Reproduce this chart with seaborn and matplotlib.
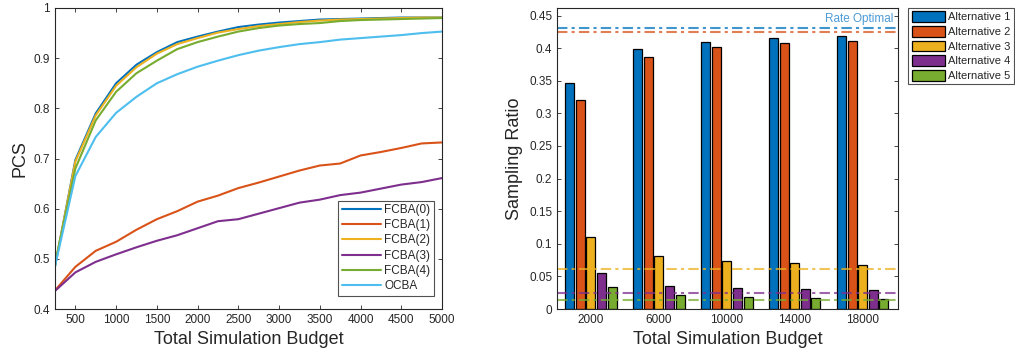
import numpy as np
import pandas as pd
import matplotlib
matplotlib.use('Agg')
import matplotlib.pyplot as plt
import seaborn as sb

# ---- left panel: PCS vs budget ----
budget = [250, 500, 750, 1000, 1250, 1500, 1750, 2000, 2250, 2500,
          2750, 3000, 3250, 3500, 3750, 4000, 4250, 4500, 4750, 5000]
fcba0 = [0.485, 0.697, 0.790, 0.850, 0.887, 0.912, 0.932, 0.943, 0.953, 0.962,
         0.967, 0.971, 0.974, 0.977, 0.978, 0.979, 0.980, 0.981, 0.981, 0.981]
fcba1 = [0.437, 0.484, 0.516, 0.534, 0.558, 0.579, 0.595, 0.614, 0.626, 0.641,
         0.652, 0.664, 0.676, 0.686, 0.690, 0.706, 0.713, 0.721, 0.730, 0.732]
fcba2 = [0.487, 0.694, 0.786, 0.845, 0.882, 0.909, 0.928, 0.940, 0.951, 0.958,
         0.964, 0.968, 0.972, 0.975, 0.977, 0.978, 0.979, 0.980, 0.981, 0.981]
fcba3 = [0.436, 0.473, 0.494, 0.509, 0.523, 0.536, 0.547, 0.561, 0.575, 0.579,
         0.590, 0.601, 0.612, 0.618, 0.627, 0.632, 0.640, 0.648, 0.653, 0.661]
fcba4 = [0.490, 0.680, 0.776, 0.833, 0.870, 0.895, 0.918, 0.932, 0.943, 0.953,
         0.960, 0.965, 0.968, 0.970, 0.974, 0.976, 0.977, 0.978, 0.979, 0.980]
ocba = [0.485, 0.665, 0.743, 0.791, 0.823, 0.850, 0.868, 0.883, 0.895, 0.906,
        0.915, 0.922, 0.928, 0.932, 0.937, 0.940, 0.943, 0.946, 0.950, 0.953]
methods = ['FCBA(0)', 'FCBA(1)', 'FCBA(2)', 'FCBA(3)', 'FCBA(4)', 'OCBA']

# ---- right panel: sampling ratios ----
budgets_bar = ['2000', '6000', '10000', '14000', '18000']
alt1 = [0.346, 0.398, 0.410, 0.415, 0.419]
alt2 = [0.320, 0.386, 0.401, 0.408, 0.411]
alt3 = [0.110, 0.081, 0.073, 0.070, 0.068]
alt4 = [0.055, 0.036, 0.032, 0.030, 0.029]
alt5 = [0.033, 0.021, 0.018, 0.017, 0.016]
alts = ['Alternative 1', 'Alternative 2', 'Alternative 3', 'Alternative 4', 'Alternative 5']
rate_optimal = [0.431, 0.425, 0.061, 0.025, 0.014]

colors = ['#0072BD', '#D95319', '#EDB120', '#7E2F8E', '#77AC30', '#4DBEEE']

sb.set_style('ticks')
plt.rcParams['font.family'] = ['Liberation Sans', 'DejaVu Sans']
plt.rcParams['axes.edgecolor'] = '#262626'
plt.rcParams['xtick.color'] = '#262626'
plt.rcParams['ytick.color'] = '#262626'
plt.rcParams['xtick.direction'] = 'in'
plt.rcParams['ytick.direction'] = 'in'

fig = plt.figure(figsize=(10.15, 3.58), dpi=100)
ax1 = fig.add_axes([55/1015, 1 - 309/358, 387/1015, 301/358])
ax2 = fig.add_axes([557/1015, 1 - 309/358, 341/1015, 301/358])

pcs = pd.DataFrame({'Budget': budget * 6,
                    'PCS': fcba0 + fcba1 + fcba2 + fcba3 + fcba4 + ocba,
                    'Method': [m for m in methods for _ in budget]})
sb.lineplot(data=pcs, x='Budget', y='PCS', hue='Method', palette=colors,
            linewidth=1.5, ax=ax1)
ax1.set_xlim(250, 5000)
ax1.set_ylim(0.4, 1.0)
ax1.set_xticks(range(500, 5001, 500))
ax1.set_yticks([0.4, 0.5, 0.6, 0.7, 0.8, 0.9, 1.0])
ax1.set_yticklabels(['0.4', '0.5', '0.6', '0.7', '0.8', '0.9', '1'])
ax1.set_xlabel('Total Simulation Budget', fontsize=13, color='#262626')
ax1.set_ylabel('PCS', fontsize=13, color='#262626')
ax1.tick_params(labelsize=8.5, top=True, right=True, length=3, width=0.6)
leg1 = ax1.legend(loc='lower right', fontsize=8.5, frameon=True, fancybox=False,
                  edgecolor='#262626', handlelength=3.3, labelspacing=0.27,
                  borderpad=0.3, handletextpad=0.3, bbox_to_anchor=(0.995, 0.025))
leg1.get_frame().set_linewidth(0.8)

ratio = pd.DataFrame({'Budget': budgets_bar * 5,
                      'Ratio': alt1 + alt2 + alt3 + alt4 + alt5,
                      'Alt': [a for a in alts for _ in budgets_bar]})
sb.barplot(data=ratio, x='Budget', y='Ratio', hue='Alt', palette=colors[:5],
           saturation=1, width=0.78, gap=0.15, edgecolor='black',
           linewidth=0.9, ax=ax2)
for val, c in zip(rate_optimal, colors[:5]):
    ax2.axhline(val, color=c, alpha=0.75, linestyle=(0, (5, 2, 1.5, 2)), linewidth=1.5)
ax2.text(4.45, 0.4355, 'Rate Optimal', color='#4D9BD6', fontsize=8.5,
         ha='right', va='bottom')
ax2.set_xlim(-0.5, 4.52)
ax2.set_ylim(0, 0.4615)
ax2.set_yticks([0, 0.05, 0.1, 0.15, 0.2, 0.25, 0.3, 0.35, 0.4, 0.45])
ax2.set_yticklabels(['0', '0.05', '0.1', '0.15', '0.2', '0.25', '0.3', '0.35', '0.4', '0.45'])
ax2.set_xlabel('Total Simulation Budget', fontsize=13, color='#262626')
ax2.set_ylabel('Sampling Ratio', fontsize=13, color='#262626')
ax2.tick_params(labelsize=8.5, top=True, right=True, length=3, width=0.6)
ax2.tick_params(axis='x', length=0)
leg2 = ax2.legend(loc='upper left', bbox_to_anchor=(1.03, 1.0), fontsize=8,
                  frameon=True, fancybox=False, edgecolor='#262626',
                  handlelength=3.0, handleheight=1.1, labelspacing=0.32,
                  borderpad=0.3, handletextpad=0.3, borderaxespad=0)
leg2.get_frame().set_linewidth(0.8)

for ax in (ax1, ax2):
    for s in ax.spines.values():
        s.set_linewidth(0.8)
        s.set_visible(True)

fig.savefig('out.png', dpi=100)
